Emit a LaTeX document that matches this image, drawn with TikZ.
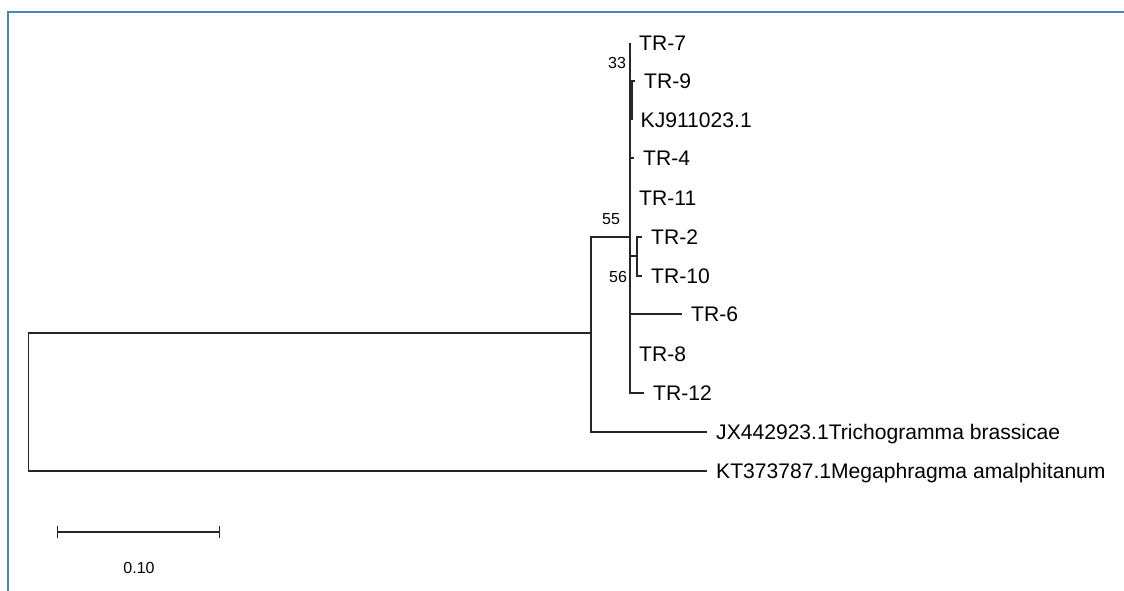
\documentclass[tikz,border=0pt]{standalone}
\usepackage{fontspec}
\setmainfont{Liberation Sans}
\usepackage{tikz}
\usetikzlibrary{arrows.meta}

\definecolor{framecol}{RGB}{79,129,189}

\begin{document}
\begin{tikzpicture}[x=1pt,y=-1pt,
    branch/.style={line width=1.2pt,black!85},
    taxon/.style={anchor=base west,inner sep=0pt,xshift=9pt,yshift=-7.4pt,font=\fontsize{21.1}{24}\selectfont},
    boot/.style={inner sep=0pt,font=\fontsize{16}{18}\selectfont},
    frame/.style={line width=2pt,framecol}]
    \useasboundingbox (0,0) rectangle (1124,591);
    \draw [frame] (8,591) -- (8,12) -- (1124,12);

    \coordinate (root) at (28.5,402);
    \coordinate (nA) at (591,333);
    \coordinate (n55) at (630,237);
    \coordinate (n33) at (631.5,100);
    \coordinate (n56) at (637,256);

    \coordinate (t7) at (630,43);
    \coordinate (t9) at (635,81);
    \coordinate (tKJ) at (631.5,120);
    \coordinate (t4) at (634,158);
    \coordinate (t11) at (630,198);
    \coordinate (t2) at (642,237);
    \coordinate (t10) at (642,276);
    \coordinate (t6) at (682,314);
    \coordinate (t8) at (630,354);
    \coordinate (t12) at (644,393);
    \coordinate (tJX) at (707,432);
    \coordinate (tKT) at (707,471);

    \draw [branch] (tKT) -| (root) |- (nA);
    \draw [branch] (tJX) -| (nA) |- (n55);
    \draw [branch] (t7) -- (t7 |- t12) -- (t12);
    \draw [branch] (n55 |- n33) -- (n33);
    \draw [branch,line width=2pt] (t9) -| (n33) |- (tKJ);
    \draw [branch] (t7 |- t4) -- (t4);
    \draw [branch] (t7 |- n56) -- (n56);
    \draw [branch] (t2) -| (n56) |- (t10);
    \draw [branch] (t7 |- t6) -- (t6);

    \node [taxon] (l7) at (t7) {TR-7};
    \node [taxon] (l9) at (t9) {TR-9};
    \node [taxon] (lKJ) at (tKJ) {KJ911023.1};
    \node [taxon] (l4) at (t4) {TR-4};
    \node [taxon] (l11) at (t11) {TR-11};
    \node [taxon] (l2) at (t2) {TR-2};
    \node [taxon] (l10) at (t10) {TR-10};
    \node [taxon] (l6) at (t6) {TR-6};
    \node [taxon] (l8) at (t8) {TR-8};
    \node [taxon] (l12) at (t12) {TR-12};
    \node [taxon] (lJX) at (tJX) {JX442923.1Trichogramma brassicae};
    \node [taxon] (lKT) at (tKT) {KT373787.1Megaphragma amalphitanum};

    \node [boot] (b33) at (617,63) {33};
    \node [boot] (b55) at (611,219) {55};
    \node [boot] (b56) at (618,277) {56};

    \coordinate (sbL) at (57,532);
    \coordinate (sbR) at (220,532);
    \draw [branch,{Bar[width=12pt]}-{Bar[width=12pt]}] (sbL) -- (sbR);
    \node [boot] (sblab) at (139,568) {0.10};
\end{tikzpicture}
\end{document}
